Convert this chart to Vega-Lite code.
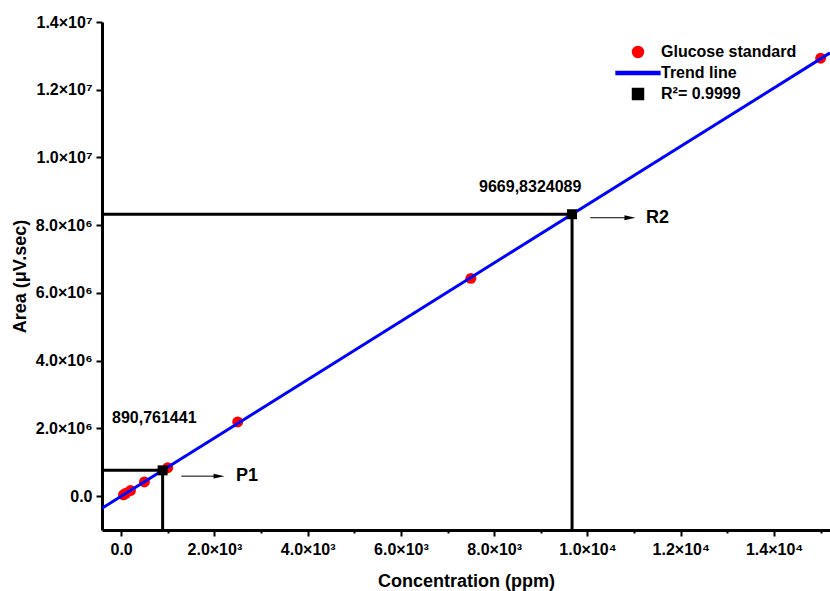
{
  "$schema": "https://vega.github.io/schema/vega-lite/v6.json",
  "width": 728,
  "height": 508,
  "autosize": "none",
  "padding": {"left": 102, "top": 22, "right": 0, "bottom": 61},
  "background": "white",
  "config": {
    "font": "Liberation Sans",
    "view": {"stroke": null},
    "axis": {"grid": false}
  },
  "datasets": {
    "points": [
      {"c": 50, "a": 40000},
      {"c": 100, "a": 85000},
      {"c": 200, "a": 165000},
      {"c": 500, "a": 420000},
      {"c": 1000, "a": 840000},
      {"c": 2500, "a": 2190000},
      {"c": 7500, "a": 6430000},
      {"c": 15000, "a": 12930000}
    ],
    "trend": [
      {"c": -410, "a": -358440},
      {"c": 15200, "a": 13088747}
    ],
    "readings": [
      {"c": 890, "a": 761441, "c0": -410, "a0": -1000000},
      {"c": 9669, "a": 8324089, "c0": -410, "a0": -1000000}
    ],
    "valueLabels": [
      {"c": -195, "a": 2310000, "t": "890,761441"},
      {"c": 7675, "a": 9140000, "t": "9669,8324089"}
    ],
    "arrows": [
      {"c": 1290, "c2": 2100, "a": 590000},
      {"c": 10060, "c2": 10910, "a": 8220000}
    ],
    "arrowLabels": [
      {"c": 2465, "a": 590000, "t": "P1"},
      {"c": 11255, "a": 8220000, "t": "R2"}
    ]
  },
  "layer": [
    {
      "data": {"name": "points"},
      "mark": {"type": "point", "filled": true, "size": 120, "opacity": 1},
      "encoding": {
        "x": {
          "field": "c", "type": "quantitative",
          "scale": {"domain": [-410, 15200], "nice": false, "zero": false},
          "axis": {
            "title": "Concentration (ppm)",
            "titleFontSize": 18, "titleFontWeight": "bold", "titleColor": "black", "titlePadding": 15,
            "values": [0, 1000, 2000, 3000, 4000, 5000, 6000, 7000, 8000, 9000, 10000, 11000, 12000, 13000, 14000, 15000],
            "labelExpr": "datum.value % 2000 != 0 ? '' : datum.value == 0 ? '0.0' : datum.value < 10000 ? format(datum.value/1000, '.1f') + '×10³' : format(datum.value/10000, '.1f') + '×10⁴'",
            "labelFontSize": 16, "labelFontWeight": "bold", "labelColor": "black", "labelPadding": 5,
            "labelOverlap": false, "labelFlush": false,
            "domainColor": "black", "domainWidth": 3,
            "tickColor": "black", "tickWidth": 2,
            "tickSize": {"condition": {"test": "datum.value % 2000 != 0", "value": 3}, "value": 6}
          }
        },
        "y": {
          "field": "a", "type": "quantitative",
          "scale": {"domain": [-1000000, 14000000], "nice": false, "zero": false},
          "axis": {
            "title": "Area (μV.sec)",
            "titleFontSize": 18, "titleFontWeight": "bold", "titleColor": "black", "titlePadding": 6,
            "values": [0, 1000000, 2000000, 3000000, 4000000, 5000000, 6000000, 7000000, 8000000, 9000000, 10000000, 11000000, 12000000, 13000000, 14000000],
            "labelExpr": "datum.value % 2000000 != 0 ? '' : datum.value == 0 ? '0.0' : datum.value < 10000000 ? format(datum.value/1000000, '.1f') + '×10⁶' : format(datum.value/10000000, '.1f') + '×10⁷'",
            "labelFontSize": 16, "labelFontWeight": "bold", "labelColor": "black", "labelPadding": 4,
            "labelOverlap": false, "labelFlush": false,
            "domainColor": "black", "domainWidth": 3,
            "tickColor": "black", "tickWidth": 2,
            "tickSize": {"condition": {"test": "datum.value % 2000000 != 0", "value": 3}, "value": 6}
          }
        },
        "color": {
          "datum": "Glucose standard",
          "scale": {"domain": ["Glucose standard", "Trend line", "R²= 0.9999"], "range": ["#ff0000", "#0000ff", "#000000"]},
          "legend": {
            "title": null, "orient": "none", "legendX": 528, "legendY": 22, "padding": 0,
            "symbolSize": 120, "labelFontSize": 16, "labelFontWeight": "bold", "labelColor": "black",
            "labelOffset": 15, "rowPadding": 4
          }
        },
        "shape": {
          "datum": "Glucose standard",
          "scale": {"domain": ["Glucose standard", "Trend line", "R²= 0.9999"], "range": ["circle", "M-4,-0.27L4,-0.27L4,0.27L-4,0.27Z", "square"]},
          "legend": {
            "title": null, "orient": "none", "legendX": 528, "legendY": 22, "padding": 0,
            "symbolSize": 120, "labelFontSize": 16, "labelFontWeight": "bold", "labelColor": "black",
            "labelOffset": 15, "rowPadding": 4
          }
        }
      }
    },
    {
      "data": {"name": "trend"},
      "mark": {"type": "line", "strokeWidth": 3, "clip": true},
      "encoding": {
        "x": {"field": "c", "type": "quantitative"},
        "y": {"field": "a", "type": "quantitative"},
        "color": {"datum": "Trend line", "legend": null}
      }
    },
    {
      "data": {"name": "readings"},
      "mark": {"type": "rule", "color": "black", "strokeWidth": 3},
      "encoding": {
        "x": {"field": "c0", "type": "quantitative"},
        "x2": {"field": "c"},
        "y": {"field": "a", "type": "quantitative"}
      }
    },
    {
      "data": {"name": "readings"},
      "mark": {"type": "rule", "color": "black", "strokeWidth": 3},
      "encoding": {
        "x": {"field": "c", "type": "quantitative"},
        "y": {"field": "a0", "type": "quantitative"},
        "y2": {"field": "a"}
      }
    },
    {
      "data": {"name": "readings"},
      "mark": {"type": "point", "filled": true, "size": 100, "opacity": 1},
      "encoding": {
        "x": {"field": "c", "type": "quantitative"},
        "y": {"field": "a", "type": "quantitative"},
        "color": {"datum": "R²= 0.9999", "legend": null},
        "shape": {"datum": "R²= 0.9999", "legend": null}
      }
    },
    {
      "data": {"name": "valueLabels"},
      "mark": {"type": "text", "align": "left", "baseline": "middle", "fontSize": 16, "fontWeight": "bold", "color": "black"},
      "encoding": {
        "x": {"field": "c", "type": "quantitative"},
        "y": {"field": "a", "type": "quantitative"},
        "text": {"field": "t"}
      }
    },
    {
      "data": {"name": "arrows"},
      "mark": {"type": "rule", "color": "black", "strokeWidth": 1},
      "encoding": {
        "x": {"field": "c", "type": "quantitative"},
        "x2": {"field": "c2"},
        "y": {"field": "a", "type": "quantitative"}
      }
    },
    {
      "data": {"name": "arrows"},
      "mark": {"type": "point", "shape": "M-1,-0.45L1,0L-1,0.45Z", "filled": true, "size": 120, "color": "black", "opacity": 1},
      "encoding": {
        "x": {"field": "c2", "type": "quantitative"},
        "y": {"field": "a", "type": "quantitative"}
      }
    },
    {
      "data": {"name": "arrowLabels"},
      "mark": {"type": "text", "align": "left", "baseline": "middle", "fontSize": 18, "fontWeight": "bold", "color": "black"},
      "encoding": {
        "x": {"field": "c", "type": "quantitative"},
        "y": {"field": "a", "type": "quantitative"},
        "text": {"field": "t"}
      }
    }
  ]
}
